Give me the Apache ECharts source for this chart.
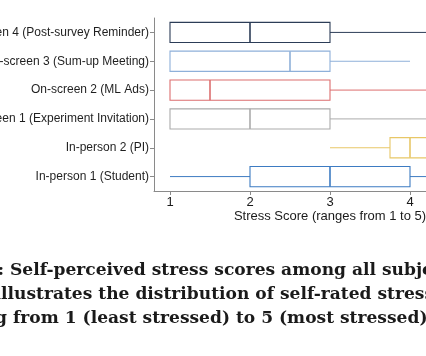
<!DOCTYPE html>
<html>
<head>
<meta charset="utf-8">
<script src="https://cdn.jsdelivr.net/npm/echarts@6/dist/echarts.min.js"></script>
<style>
  html, body { margin: 0; padding: 0; background: #ffffff; }
  #chart { width: 426px; height: 356px; }
</style>
</head>
<body>
<div id="chart"></div>
<script>
// Categories listed bottom to top
const categories = [
  'In-person 1 (Student)',
  'In-person 2 (PI)',
  'On-screen 1 (Experiment Invitation)',
  'On-screen 2 (ML Ads)',
  'On-screen 3 (Sum-up Meeting)',
  'On-screen 4 (Post-survey Reminder)'
];
const mins    = [1, 3,    1, 1,   1,   1];
const q1s     = [2, 3.75, 1, 1,   1,   1];
const medians = [3, 4,    2, 1.5, 2.5, 2];
const q3s     = [4, 4.25, 3, 3,   3,   3];
const maxs    = [5, 5,    5, 5,   4,   5];
const xTicks  = [1, 2, 3, 4, 5];
const xTitle  = 'Stress Score (ranges from 1 to 5)';
const captionLines = [
  '5: Self-perceived stress scores among all subjects',
  'illustrates the distribution of self-rated stress',
  'ranging from 1 (least stressed) to 5 (most stressed).'
];

const colors = ['#3d7bc2', '#e8c767', '#ababab', '#dc6e6f', '#8eb0d9', '#2c3d57'];

const boxData = categories.map((c, i) => [i, mins[i], q1s[i], medians[i], q3s[i], maxs[i]]);

// caption sizing via text measurement (font size fitted to the visible span of each line)
const cv = document.createElement('canvas').getContext('2d');
const capFamily = '"DejaVu Serif", serif';
function w100(s) { cv.font = 'bold 100px ' + capFamily; return cv.measureText(s).width; }
const capFit = [
  { prefix: '5: ', span: 'Self-perceived stress scores among all sub', start: 10, end: 418 },
  { prefix: 'i', span: 'llustrates the distribution of self-rated str', start: 1, end: 413 },
  { prefix: 'ranging ', span: 'from 1 (least stressed) to 5 (most stressed).', start: 13, end: 422 }
];
const capSizes = capFit.map(f => 100 * (f.end - f.start) / w100(f.span));
const capSize = (capSizes[0] + capSizes[1] + capSizes[2]) / 3;
const capX = capFit.map(f => f.start - w100(f.prefix) * capSize / 100);
const capBase = [276, 300, 324];

const chart = echarts.init(document.getElementById('chart'), null, { renderer: 'canvas' });

chart.setOption({
  animation: false,
  backgroundColor: '#ffffff',
  grid: { left: 154, top: 18, right: -80, bottom: 165, containLabel: false, outerBoundsMode: 'none' },
  xAxis: {
    type: 'value',
    min: 0.8,
    max: 5.2,
    name: xTitle,
    nameLocation: 'middle',
    nameGap: 19,
    nameTextStyle: { fontFamily: 'Liberation Sans', fontSize: 13, color: '#1a1a1a' },
    splitLine: { show: false },
    axisLine: { show: true, lineStyle: { color: '#8a8a8a', width: 1 } },
    axisTick: { show: true, length: 4, customValues: xTicks, lineStyle: { color: '#8a8a8a' } },
    axisLabel: { customValues: xTicks, margin: 5, fontFamily: 'Liberation Sans', fontSize: 13, color: '#1a1a1a' }
  },
  yAxis: {
    type: 'category',
    data: categories,
    boundaryGap: true,
    axisLine: { show: true, lineStyle: { color: '#8a8a8a', width: 1 } },
    axisTick: { show: true, length: 4, alignWithLabel: true, lineStyle: { color: '#8a8a8a' } },
    axisLabel: { margin: 5, fontFamily: 'Liberation Sans', fontSize: 12, color: '#1f1f1f' },
    splitLine: { show: false }
  },
  series: [{
    type: 'custom',
    clip: false,
    data: boxData,
    encode: { y: 0, x: [1, 2, 3, 4, 5] },
    renderItem: function (params, api) {
      const idx = api.value(0);
      const vMin = api.value(1), vQ1 = api.value(2), vMed = api.value(3), vQ3 = api.value(4), vMax = api.value(5);
      const col = colors[idx];
      const pQ1 = api.coord([vQ1, idx]);
      const pQ3 = api.coord([vQ3, idx]);
      const pMed = api.coord([vMed, idx]);
      const pMin = api.coord([vMin, idx]);
      const pMax = api.coord([vMax, idx]);
      const band = api.size([0, 1])[1];
      const h = band * 0.7;
      const y = pQ1[1];
      const children = [];
      if (vMin < vQ1) {
        children.push({ type: 'line', shape: { x1: pMin[0], y1: y, x2: pQ1[0], y2: y }, style: { stroke: col, lineWidth: 1 } });
      }
      if (vMax > vQ3) {
        children.push({ type: 'line', shape: { x1: pQ3[0], y1: y, x2: pMax[0], y2: y }, style: { stroke: col, lineWidth: 1 } });
      }
      children.push({ type: 'rect', shape: { x: pQ1[0], y: y - h / 2, width: pQ3[0] - pQ1[0], height: h }, style: { fill: '#ffffff', stroke: col, lineWidth: 1.1 } });
      children.push({ type: 'line', shape: { x1: pMed[0], y1: y - h / 2, x2: pMed[0], y2: y + h / 2 }, style: { stroke: col, lineWidth: 1.6 } });
      return { type: 'group', children: children };
    }
  }],
  graphic: captionLines.map((t, i) => ({
    type: 'text',
    x: capX[i],
    y: capBase[i] + capSize * 0.2,
    style: {
      text: t,
      font: 'bold ' + capSize.toFixed(2) + 'px ' + capFamily,
      fill: '#1a1a1a',
      textAlign: 'left',
      verticalAlign: 'bottom'
    }
  }))
});
</script>
</body>
</html>
